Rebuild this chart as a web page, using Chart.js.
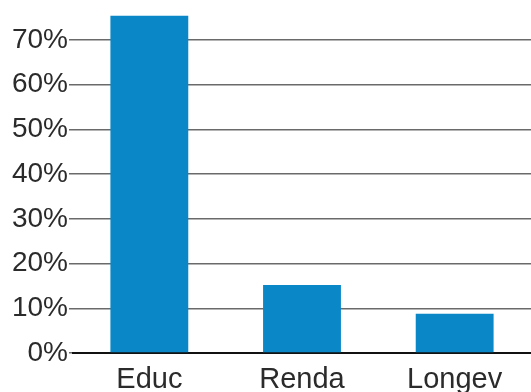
<!DOCTYPE html>
<html>
<head>
<meta charset="utf-8">
<script src="https://cdn.jsdelivr.net/npm/chart.js@4/dist/chart.umd.min.js"></script>
<style>
    html, body { margin: 0; padding: 0; background: #fff; }
    #wrap { width: 531px; height: 392px; overflow: hidden; position: relative; }
    /* the original picture is cropped at the top, so the canvas is shifted up */
    #wrap canvas { position: absolute; left: 0; top: -16px; }
</style>
</head>
<body>
<div id="wrap"><canvas id="bars" width="531" height="426"></canvas></div>
<script>
const categories = ['Educ', 'Renda', 'Longev'];
const shares = [75.4, 15.2, 8.8];
const tickValues = [0, 10, 20, 30, 40, 50, 60, 70];

const ctx = document.getElementById('bars');
const chart = new Chart(ctx, {
    type: 'bar',
    data: {
        labels: categories,
        datasets: [{
            data: shares,
            backgroundColor: '#0a87c7',
            borderWidth: 0,
            categoryPercentage: 1,
            barPercentage: 0.51
        }]
    },
    options: {
        responsive: false,
        animation: false,
        plugins: {
            legend: {display: false},
            tooltip: {enabled: false}
        },
        scales: {
            x: {
                grid: {display: false},
                border: {display: true, color: '#111', width: 2},
                ticks: {
                    color: '#2b2b2b',
                    padding: 2,
                    font: {family: 'Liberation Sans, Arial, sans-serif', size: 29}
                },
                afterFit: function (scale) {
                    scale.height = 57;
                }
            },
            y: {
                min: 0,
                max: 78.5,
                border: {display: false},
                grid: {
                    color: '#6a6a6a',
                    lineWidth: 1.5,
                    tickLength: 4
                },
                afterBuildTicks: function (scale) {
                    // only the round tens, not the clipped top value
                    scale.ticks = tickValues.map(v => ({value: v}));
                },
                ticks: {
                    color: '#2b2b2b',
                    padding: 1,
                    font: {family: 'Liberation Sans, Arial, sans-serif', size: 28},
                    callback: function (value) {
                        return value + '%';
                    }
                },
                afterFit: function (scale) {
                    scale.width = 73;
                }
            }
        }
    }
});
</script>
</body>
</html>
